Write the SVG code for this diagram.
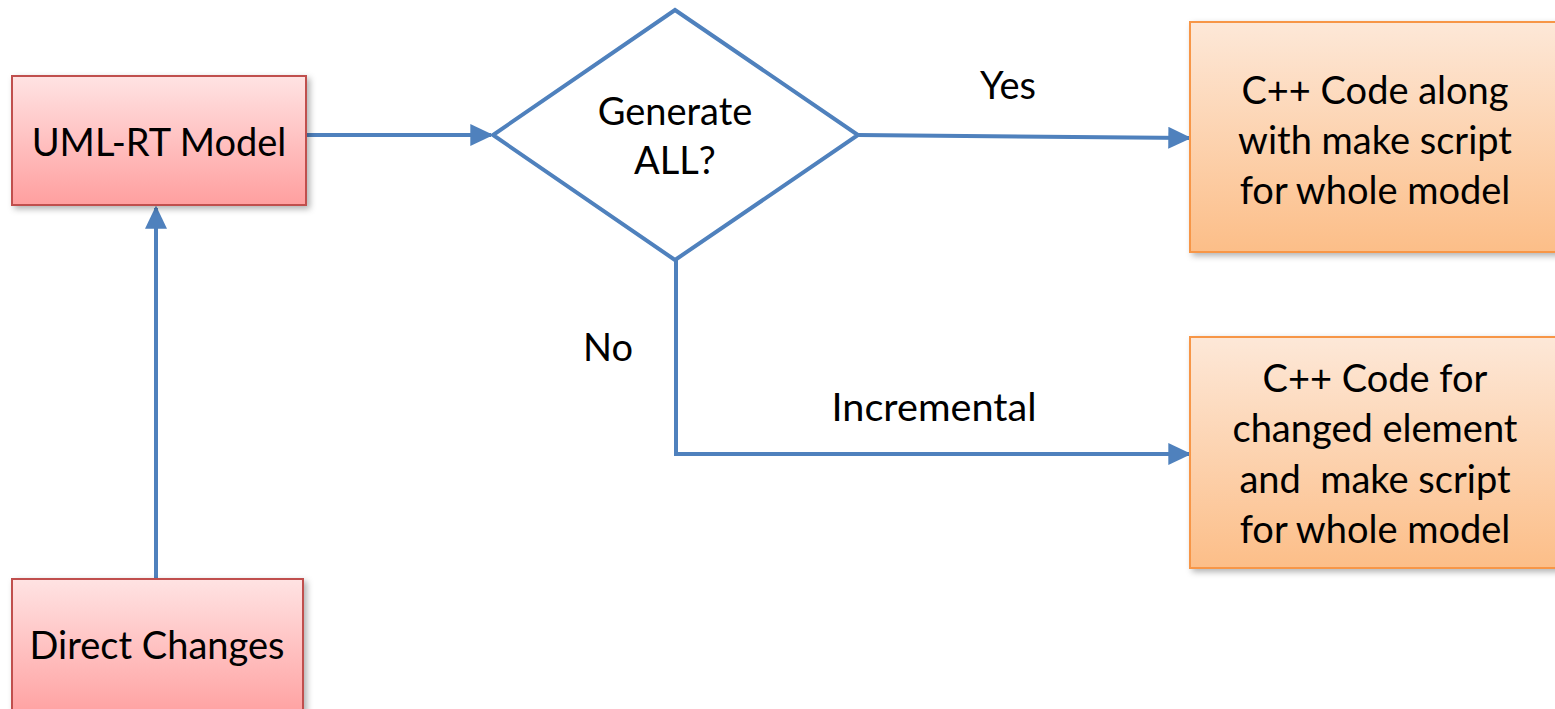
<svg xmlns="http://www.w3.org/2000/svg" width="1555" height="709" viewBox="0 0 1555 709">
  <style>
    .lbl { font-family: Lato, "Open Sans", "Liberation Sans", sans-serif; fill: #000; text-anchor: middle; font-size: 38px; }
    .conn { fill: none; stroke: #4f81bd; stroke-width: 4; }
    .red { fill: url(#gRed); stroke: #c0504d; stroke-width: 2; filter: url(#shadow); }
    .orange { fill: url(#gOrange); stroke: #f79646; stroke-width: 2; filter: url(#shadow); }
  </style>
  <defs>
    <linearGradient id="gRed" x1="0" y1="0" x2="0" y2="1">
      <stop offset="0" stop-color="#ffe3e3"/>
      <stop offset="1" stop-color="#ff9f9f"/>
    </linearGradient>
    <linearGradient id="gOrange" x1="0" y1="0" x2="0" y2="1">
      <stop offset="0" stop-color="#fde8d8"/>
      <stop offset="1" stop-color="#fcbe88"/>
    </linearGradient>
    <filter id="shadow" x="-10%" y="-10%" width="125%" height="125%">
      <feDropShadow dx="3" dy="3" stdDeviation="3" flood-color="#000" flood-opacity="0.3"/>
    </filter>
    <marker id="head" viewBox="0 0 10 10" refX="9" refY="5" markerWidth="23" markerHeight="22" markerUnits="userSpaceOnUse" orient="auto" preserveAspectRatio="none">
      <path d="M0,0 L10,5 L0,10 Z" fill="#4f81bd"/>
    </marker>
  </defs>

  <rect width="1555" height="709" fill="#fff"/>

  <!-- connectors -->
  <g id="connectors">
    <line class="conn" x1="306" y1="135" x2="491" y2="135" marker-end="url(#head)"/>
    <line class="conn" x1="156" y1="579" x2="156" y2="208" marker-end="url(#head)"/>
    <line class="conn" x1="858" y1="135" x2="1189" y2="138" marker-end="url(#head)"/>
    <polyline class="conn" points="676,260 676,454 1189,454" marker-end="url(#head)"/>
    <text class="lbl" x="1008" y="99">Yes</text>
    <text class="lbl" x="608" y="361">No</text>
    <text class="lbl" x="934" y="421" textLength="205" lengthAdjust="spacingAndGlyphs">Incremental</text>
  </g>

  <!-- nodes -->
  <g id="uml-model">
    <rect class="red" x="12" y="76" width="294" height="129"/>
    <text class="lbl" x="159" y="156">UML-RT Model</text>
  </g>

  <g id="direct-changes">
    <rect class="red" x="12" y="579" width="291" height="140"/>
    <text class="lbl" x="157" y="659">Direct Changes</text>
  </g>

  <g id="decision">
    <polygon points="675,10 858,135 675,260 493,135" fill="#fff" stroke="#4f81bd" stroke-width="4"/>
    <text class="lbl" x="675" y="125">Generate</text>
    <text class="lbl" x="675" y="174">ALL?</text>
  </g>

  <g id="full-output">
    <rect class="orange" x="1190" y="22" width="375" height="230"/>
    <text class="lbl" x="1375" y="104">C++ Code along</text>
    <text class="lbl" x="1375" y="154">with make script</text>
    <text class="lbl" x="1375" y="204">for whole model</text>
  </g>

  <g id="incremental-output">
    <rect class="orange" x="1190" y="337" width="375" height="231"/>
    <text class="lbl" x="1375" y="392">C++ Code for</text>
    <text class="lbl" x="1375" y="442">changed element</text>
    <text class="lbl" x="1375" y="493" xml:space="preserve">and  make script</text>
    <text class="lbl" x="1375" y="543">for whole model</text>
  </g>
</svg>
